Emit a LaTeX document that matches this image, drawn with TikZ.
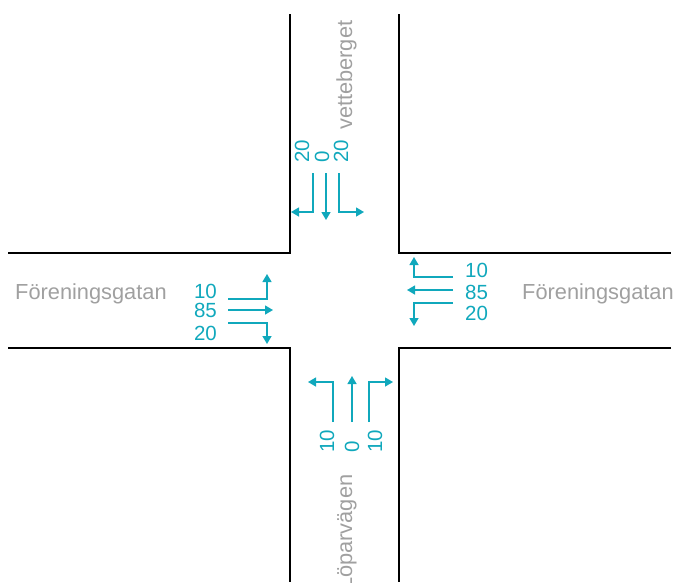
\documentclass[tikz,border=0pt]{standalone}
\usepackage{fontspec}
\setmainfont{Liberation Sans}
\usetikzlibrary{arrows,arrows.meta}
\definecolor{flowcol}{RGB}{16,168,188}
\definecolor{streetgrey}{RGB}{160,160,160}

\begin{document}
\begin{tikzpicture}[x=1pt,y=-1pt,
road/.style={line width=1.4pt},
flow/.style={-{Triangle[length=8pt,width=9pt]},line width=1.4pt,draw=flowcol},
count/.style={font=\fontsize{20.5}{20.5}\selectfont,text=flowcol,inner sep=0pt},
street/.style={font=\fontsize{21.8}{21.8}\selectfont,text=streetgrey,inner sep=0pt} ]

\useasboundingbox (0,0) rectangle (676,582);

\draw[road] (290,14) -- (290,253) -- (8,253);
\draw[road] (399,14) -- (399,253) -- (671,253);
\draw[road] (8,348) -- (290,348) -- (290,582);
\draw[road] (671,348) -- (399,348) -- (399,582);

\node[street,anchor=base west] (WN) at (15,299) {Föreningsgatan};
\node[street,anchor=base west] (EN) at (522,299) {Föreningsgatan};
\node[street,anchor=base west,rotate=90] (NN) at (352,130) {vetteberget};
\node[street,anchor=base west,rotate=90] (SN) at (352,590) {Löparvägen};

\node[count,anchor=east] (W1) at (217,291) {10};
\node[count,anchor=east] (W2) at (217,310) {85};
\node[count,anchor=east] (W3) at (217,333) {20};

\node[count,anchor=west] (E1) at (465,270) {10};
\node[count,anchor=west] (E2) at (465,292) {85};
\node[count,anchor=west] (E3) at (465,313) {20};

\node[count,anchor=west,rotate=90] (N1) at (302,163) {20};
\node[count,anchor=west,rotate=90] (N2) at (322,163) {0};
\node[count,anchor=west,rotate=90] (N3) at (341,163) {20};

\node[count,anchor=west,rotate=90] (S1) at (327,453) {10};
\node[count,anchor=west,rotate=90] (S2) at (352,453) {0};
\node[count,anchor=west,rotate=90] (S3) at (375,453) {10};

\coordinate (w1) at (228,299); \coordinate (w1t) at (267,274);
\coordinate (w2) at (228,310); \coordinate (w2t) at (273,310);
\coordinate (w3) at (228,323); \coordinate (w3t) at (267,344);

\coordinate (e1) at (453,277); \coordinate (e1t) at (414,257);
\coordinate (e2) at (453,290); \coordinate (e2t) at (407,290);
\coordinate (e3) at (453,303); \coordinate (e3t) at (414,326);

\coordinate (n1) at (313,173); \coordinate (n1t) at (291,212);
\coordinate (n2) at (326,173); \coordinate (n2t) at (326,220);
\coordinate (n3) at (339,173); \coordinate (n3t) at (364,212);

\coordinate (s1) at (333,422); \coordinate (s1t) at (308,382);
\coordinate (s2) at (352,422); \coordinate (s2t) at (352,376);
\coordinate (s3) at (369,422); \coordinate (s3t) at (393,382);

\draw[flow] (w1) -| (w1t);
\draw[flow] (w2) -- (w2t);
\draw[flow] (w3) -| (w3t);

\draw[flow] (e1) -| (e1t);
\draw[flow] (e2) -- (e2t);
\draw[flow] (e3) -| (e3t);

\draw[flow] (n1) |- (n1t);
\draw[flow] (n2) -- (n2t);
\draw[flow] (n3) |- (n3t);

\draw[flow] (s1) |- (s1t);
\draw[flow] (s2) -- (s2t);
\draw[flow] (s3) |- (s3t);

\end{tikzpicture}
\end{document}
